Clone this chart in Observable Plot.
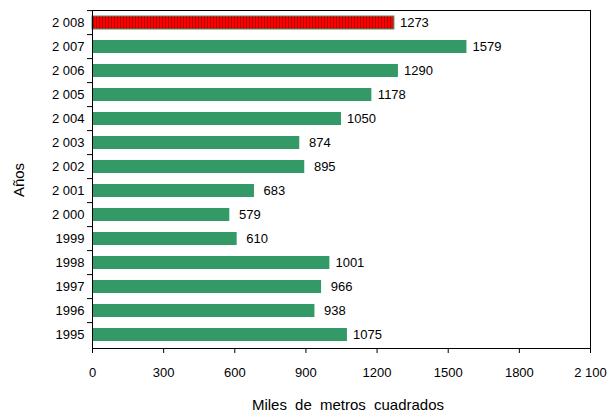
<!DOCTYPE html>
<html><head><meta charset="utf-8">
<script src="https://cdn.jsdelivr.net/npm/d3@7"></script>
<script src="https://cdn.jsdelivr.net/npm/@observablehq/plot@0.6"></script>
<style>body{margin:0;background:#fff;font-family:Arial,"Liberation Sans",sans-serif}</style>
</head><body><div id="chart"></div>
<script>
const years = ["2 008","2 007","2 006","2 005","2 004","2 003","2 002","2 001","2 000","1999","1998","1997","1996","1995"];
const values = [1273,1579,1290,1178,1050,874,895,683,579,610,1001,966,938,1075];
const xTicks = [0,300,600,900,1200,1500,1800,2100];
const xTickLabels = ["0","300","600","900","1200","1500","1800","2 100"];

const data = years.map((y, i) => ({year: y, value: values[i], current: i === 0}));

const chart = Plot.plot({
  width: 607, height: 416,
  marginLeft: 92, marginRight: 17, marginTop: 10, marginBottom: 68,
  style: {fontFamily: "Arial, 'Liberation Sans', sans-serif", fontSize: "13px", color: "#000"},
  x: {domain: [0, 2100], ticks: xTicks, tickFormat: (d, i) => xTickLabels[i], label: null},
  y: {domain: years, paddingInner: 0.45, paddingOuter: 0.225, label: null},
  marks: [
    Plot.barX(data.filter(d => !d.current), {x: "value", y: "year", fill: "#339966"}),
    Plot.barX(data.filter(d => d.current), {x: "value", y: "year", fill: "url(#stripes)", stroke: "#339966", strokeWidth: 1}),
    Plot.text(data, {x: "value", y: "year", text: d => String(d.value), dx: 20, fontSize: 13}),
    Plot.frame({stroke: "#000"}),
    Plot.axisX({ticks: xTicks, tickFormat: (d, i) => xTickLabels[i], tickSize: 5, tickPadding: 14, label: null}),
    Plot.axisY({tickSize: 0, tickPadding: 8, label: null})
  ]
});

const svg = d3.select(chart);
const defs = svg.insert("defs", ":first-child");
const pat = defs.append("pattern").attr("id", "stripes").attr("patternUnits", "userSpaceOnUse").attr("width", 3).attr("height", 10);
pat.append("rect").attr("width", 3).attr("height", 10).attr("fill", "#ff0000");
pat.append("rect").attr("width", 1).attr("height", 10).attr("fill", "#b00000");

// small left tick marks at band boundaries
const ys = chart.scale("y");
const step = ys.step;
years.forEach((y, i) => {
  const yy = ys.apply(y) - step * ys.paddingInner / 2 + step * 0; // band start minus half inner gap
  svg.append("line").attr("x1", 87).attr("x2", 92).attr("y1", yy).attr("y2", yy).attr("stroke", "#000");
});

svg.append("text").attr("x", 348).attr("y", 410).attr("text-anchor", "middle").attr("font-size", 15).attr("word-spacing", 4).text("Miles de metros cuadrados");
svg.append("text").attr("transform", "translate(24,180) rotate(-90)").attr("text-anchor", "middle").attr("font-size", 15).text("Años");

document.getElementById("chart").appendChild(chart);
</script></body></html>
